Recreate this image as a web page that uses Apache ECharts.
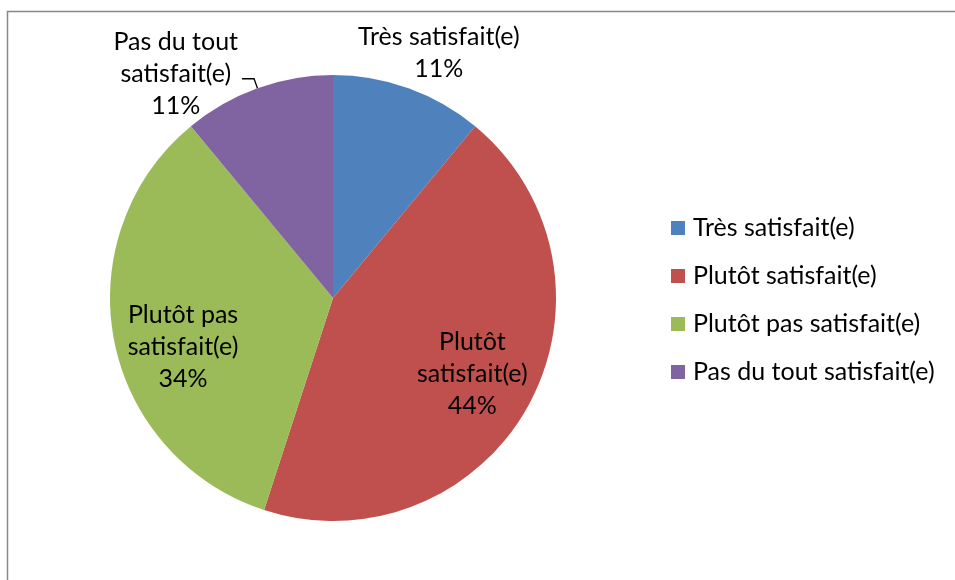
<!DOCTYPE html>
<html>
<head>
<meta charset="utf-8">
<script src="https://cdn.jsdelivr.net/npm/echarts@6/dist/echarts.min.js"></script>
<style>
  html, body { margin: 0; padding: 0; background: #fff; }
  #main { width: 955px; height: 580px; }
</style>
</head>
<body>
<div id="main"></div>
<script>
  // satisfaction survey, percentages
  const categories = ['Très satisfait(e)', 'Plutôt satisfait(e)', 'Plutôt pas satisfait(e)', 'Pas du tout satisfait(e)'];
  const labelTexts = [['Très satisfait(e)'], ['Plutôt', 'satisfait(e)'], ['Plutôt pas', 'satisfait(e)'], ['Pas du tout', 'satisfait(e)']];
  const values = [11, 44, 34, 11];
  const colors = ['#4F81BD', '#C0504D', '#9BBB59', '#8064A2'];

  const font = 'Lato, "Open Sans", sans-serif';

  const fmt = (lines, v) => lines.concat([v + '%']).map(l => '{c|' + l + '}').join('\n');
  const rich = { c: { align: 'center', fontFamily: font, fontSize: 25, lineHeight: 32, color: '#000' } };

  // per slice label placement (Excel "best fit" look)
  const labelOpts = [
    { position: 'inside', offset: [67, -137] },
    { position: 'inside', offset: [39, 21] },
    { position: 'inside', offset: [-37.5, 27] },
    { position: 'outside', offset: [0, -5] }
  ];

  const chart = echarts.init(document.getElementById('main'));
  const option = {
    animation: false,
    color: colors,
    graphic: [
      {
        type: 'rect',
        shape: { x: 7.5, y: 11.5, width: 1000, height: 700 },
        style: { fill: null, stroke: '#878787', lineWidth: 1.5 },
        silent: true
      }
    ],
    legend: {
      orient: 'vertical',
      left: 671,
      top: 214,
      padding: 0,
      icon: 'rect',
      itemWidth: 14,
      itemHeight: 14,
      itemGap: 20,
      textStyle: { fontFamily: font, fontSize: 25, lineHeight: 28, color: '#000', padding: [0, 0, 0, 3] },
      data: categories
    },
    series: [
      {
        type: 'pie',
        center: [333, 298],
        radius: 223,
        startAngle: 90,
        clockwise: true,
        avoidLabelOverlap: false,
        labelLine: { show: true, length: 10, length2: 12, lineStyle: { color: '#000', width: 1.3 } },
        label: { distanceToLabelLine: 4 },
        data: categories.map((name, i) => ({
          name: name,
          value: values[i],
          label: {
            show: true,
            position: labelOpts[i].position,
            offset: labelOpts[i].offset,
            formatter: fmt(labelTexts[i], values[i]),
            rich: rich
          },
          labelLine: { show: i === 3 }
        }))
      }
    ]
  };
  chart.setOption(option);
</script>
</body>
</html>
